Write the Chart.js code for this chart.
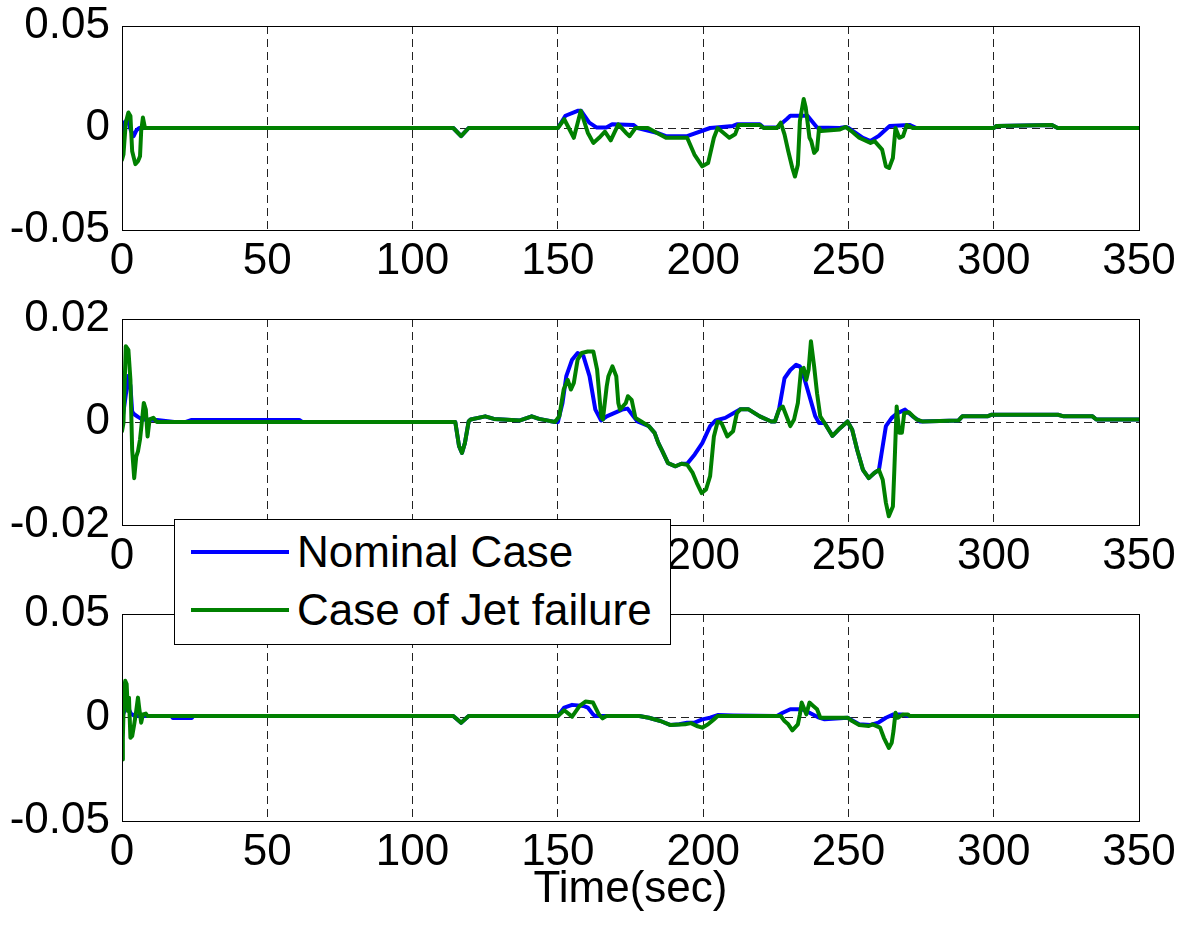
<!DOCTYPE html>
<html>
<head>
<meta charset="utf-8">
<title>Nominal case vs jet failure</title>
<script src="https://cdn.jsdelivr.net/npm/chart.js@4.4.1/dist/chart.umd.min.js"></script>
<style>
  body { margin: 0; background: #fff; }
  #wrap { position: relative; width: 1182px; height: 930px; font-family: "Liberation Sans", Arial, sans-serif; }
  #wrap canvas { position: absolute; left: 0; }
  #legend { position: absolute; left: 174px; top: 519px; width: 497px; height: 126px; box-sizing: border-box;
            border: 1px solid #000; background: #fff; z-index: 5; }
  #legend .item { position: absolute; left: 0; height: 0; width: 100%; }
  #legend .swatch { position: absolute; left: 16px; width: 98px; height: 4px; top: -2px; }
  #legend .label { position: absolute; left: 122px; top: -22px; font-size: 44px; line-height: 44px; white-space: nowrap; color: #000; }
</style>
</head>
<body>
<div id="wrap">
  <canvas id="panel1" width="1182" height="290" style="top:0px"></canvas>
  <canvas id="panel2" width="1182" height="292" style="top:293px"></canvas>
  <canvas id="panel3" width="1182" height="333" style="top:588px"></canvas>
  <div id="legend"></div>
</div>
<script>
// axis ticks
const timeTicks = [0, 50, 100, 150, 200, 250, 300, 350];
const yTicks1 = [-0.05, 0, 0.05];
const yTicks2 = [-0.02, 0, 0.02];
const yTicks3 = [-0.05, 0, 0.05];
const seriesNames = ['Nominal Case', 'Case of Jet failure'];
const seriesColors = ['#0000ff', '#008000'];

// panel 1
const t1Nominal = [0, 1, 2, 3, 4, 5, 6, 114, 116.7, 119.3, 150, 152.6, 156.8, 158, 160.8, 163.4, 166.7, 168.7, 176, 177.4, 184, 187.2, 194.5, 202.4, 210.3, 211.6, 219.5, 220.8, 225.4, 228.7, 230, 235.9, 239.2, 247, 249, 250, 255, 257.6, 260.3, 264.2, 271, 273.4, 300, 301, 320, 322, 350];
const y1Nominal = [-0.002, 0.003, 0.004, -0.001, -0.004, -0.001, 0, 0, -0.004, 0, 0, 0.006, 0.0084, 0.0084, 0.0026, 0.0002, 0.0002, 0.0018, 0.0015, 0, -0.0023, -0.004, -0.004, 0, 0.001, 0.0018, 0.0018, 0.0002, 0.0002, 0.0043, 0.006, 0.006, 0.0002, 0, 0.0005, 0, -0.0048, -0.0064, -0.004, 0.001, 0.0015, 0, 0, 0.001, 0.0015, 0, 0];
const t1Jet = [0, 0.5, 1.3, 2.2, 2.9, 3.5, 4.6, 5.5, 6.2, 6.6, 7.2, 7.9, 114, 116.7, 119.3, 150, 152.2, 155.5, 157.9, 160.3, 162.2, 164.2, 166.2, 168.2, 170.8, 173.4, 174.7, 176.7, 181, 184, 187.2, 194.5, 197, 199.7, 201.7, 203.7, 205, 209, 211, 212.2, 219.5, 220.8, 225.4, 226.7, 228, 229.3, 230.7, 231.6, 232.6, 233.3, 234.6, 235.3, 236.6, 237.2, 238.2, 239.2, 239.9, 240.6, 247.1, 249, 251, 253.7, 257.6, 259, 261.6, 262.9, 264, 265.3, 266.2, 267.5, 268.8, 270.1, 272.1, 300, 301, 320, 322, 350];
const y1Jet = [-0.0155, -0.013, 0.0026, 0.0076, 0.0059, -0.0114, -0.0177, -0.0163, -0.0139, -0.0015, 0.0051, 0, 0, -0.004, 0, 0, 0.0043, -0.0048, 0.0084, -0.0023, -0.0073, -0.0048, -0.0018, -0.0061, 0.0018, -0.0023, -0.004, 0, 0, -0.0023, -0.0048, -0.0048, -0.013, -0.0188, -0.0172, -0.0048, 0, -0.0048, -0.0031, 0.0015, 0.0015, 0, 0, 0.0026, -0.0031, -0.0114, -0.0196, -0.0238, -0.018, 0.0035, 0.0142, 0.0101, -0.0048, -0.0064, -0.0122, -0.0106, 0, -0.0015, -0.0007, 0.0005, -0.0015, -0.0048, -0.0073, -0.0064, -0.0106, -0.0188, -0.0196, -0.0147, 0, -0.0048, -0.004, 0.0015, 0, 0, 0.001, 0.0015, 0, 0];

// panel 2
const t2Nominal = [0, 1, 2.2, 2.9, 3.5, 4.2, 5.5, 7, 12, 18, 22, 24, 61, 62, 114.7, 116, 117, 118, 119.3, 120, 125, 128, 137, 141, 143.5, 149, 150, 151.6, 152.9, 154.9, 156.8, 158.8, 160.9, 162.9, 164.9, 166.8, 172.1, 174, 176, 177.4, 181.3, 183.3, 184.6, 186, 187.9, 190.5, 192.5, 194.5, 197.1, 199.7, 202.4, 204.3, 207.6, 211.6, 212.9, 215.5, 219.5, 223.4, 224.7, 226.1, 228, 230, 232, 233.3, 234.6, 236.6, 238.6, 239.9, 241.8, 244.5, 247.1, 249.7, 251.3, 253, 255, 257, 258.9, 260.5, 261.6, 262.9, 264.9, 266.8, 269.5, 272.1, 274.7, 287.9, 289.2, 297.8, 299.1, 322.1, 324.1, 334, 335.3, 350];
const y2Nominal = [0, 0.004, 0.009, 0.007, 0.002, 0.0015, 0.001, 0.0005, 0.0004, 0, 0, 0.0004, 0.0004, 0, 0, -0.0047, -0.006, -0.0041, 0.0001, 0.0005, 0.0011, 0.0006, 0.0003, 0.0011, 0.0006, 0, 0, 0.0037, 0.0089, 0.0121, 0.0134, 0.0128, 0.0089, 0.0024, 0.0003, 0.0011, 0.0024, 0.0026, 0.0011, 0.0001, -0.0008, -0.0021, -0.0041, -0.0057, -0.008, -0.0086, -0.0081, -0.0081, -0.0063, -0.0041, -0.0008, 0.0003, 0.0008, 0.0021, 0.0025, 0.0025, 0.0011, 0.0001, 0.0001, 0.0024, 0.0085, 0.0101, 0.0111, 0.0108, 0.0089, 0.005, 0.0011, -0.0002, -0.0002, -0.0027, -0.0012, 0.0001, -0.0015, -0.0054, -0.0093, -0.0109, -0.0099, -0.0093, -0.0054, -0.0008, 0.0008, 0.0017, 0.0024, 0.0011, 0.0001, 0.0003, 0.0011, 0.0011, 0.0014, 0.0014, 0.0011, 0.0011, 0.0005, 0.0005];
const t2Jet = [0, 0.5, 1.3, 2.2, 2.9, 3.5, 4.2, 4.9, 5.5, 6.2, 6.8, 7.5, 8.2, 8.8, 9.5, 10.8, 12, 114.7, 116, 117, 118, 119.3, 120, 125, 128, 137, 141, 143.5, 149, 150.5, 152, 153.4, 154.5, 155.5, 156.8, 158.2, 160.3, 162.2, 163.5, 164.9, 165.5, 166.8, 167.4, 168.8, 170.1, 170.8, 171.4, 173.4, 174.1, 175.4, 176.7, 178.7, 181.3, 183.3, 184.6, 186, 187.9, 190.5, 192.5, 194.5, 196.4, 197.8, 199.5, 201, 202.4, 203.7, 205, 206.3, 208.3, 210.3, 211.6, 212.9, 215.5, 219.5, 223.4, 224.7, 226.1, 227.4, 228.7, 230, 231.3, 232.6, 233.7, 234.6, 235.5, 236.3, 237.1, 238.2, 239.2, 240.3, 241.8, 244.5, 247.1, 249.7, 251.3, 253, 255, 257, 258.9, 260.5, 261.8, 262.9, 263.9, 265.3, 265.8, 266.6, 267.5, 268.4, 269.2, 270.8, 273.4, 275.4, 287.9, 289.2, 297.8, 299.1, 322.1, 324.1, 334, 335.3, 350];
const y2Jet = [-0.0018, -0.0002, 0.0147, 0.014, 0.0082, -0.0054, -0.0109, -0.0067, -0.0057, -0.0034, -0.0002, 0.0037, 0.0024, -0.0028, 0.0005, 0.0008, 0, 0, -0.0047, -0.006, -0.0041, 0.0001, 0.0005, 0.0011, 0.0006, 0.0003, 0.0011, 0.0006, 0, 0.0011, 0.0063, 0.0082, 0.0063, 0.0076, 0.0121, 0.0134, 0.0137, 0.0137, 0.0102, 0.0011, 0.0005, 0.0069, 0.0089, 0.0108, 0.0089, 0.0037, 0.0024, 0.0037, 0.005, 0.0043, 0.0008, 0.0001, -0.0008, -0.0021, -0.0041, -0.0057, -0.008, -0.0086, -0.0081, -0.0083, -0.0099, -0.0118, -0.0138, -0.0131, -0.0105, -0.0028, 0.0001, -0.0002, -0.0028, -0.0018, 0.0017, 0.0025, 0.0025, 0.0011, 0.0001, 0.0001, 0.0024, 0.003, 0.0011, -0.0008, 0.0005, 0.0037, 0.0102, 0.0105, 0.0082, 0.0102, 0.0157, 0.0108, 0.0056, 0.0011, -0.0002, -0.0027, -0.0012, 0.0001, -0.0015, -0.0054, -0.0093, -0.0109, -0.0099, -0.0093, -0.0112, -0.0157, -0.0183, -0.0164, -0.0093, 0.003, -0.0021, -0.0021, 0.0017, 0.0019, 0.0005, 0.0001, 0.0003, 0.0011, 0.0011, 0.0014, 0.0014, 0.0011, 0.0011, 0.0005, 0.0005];

// panel 3
const t3Nominal = [0, 1, 2, 3, 4, 6, 17, 17.5, 24, 24.5, 114, 116.7, 119.3, 150, 152.2, 154.9, 158.8, 160.3, 162.1, 162.9, 178, 181.3, 185.3, 188.6, 191.8, 194.5, 197.1, 199.7, 202.4, 205, 210.3, 225.4, 227.4, 230, 233.9, 236.6, 239.9, 241.8, 249.7, 253.7, 257.6, 260.3, 262.9, 265.5, 268.2, 270.5, 350];
const y3Nominal = [0, 0.004, 0.005, 0.002, 0.001, 0.0007, 0.0007, -0.0002, -0.0002, 0.0007, 0.0007, -0.0025, 0.0007, 0.0007, 0.0048, 0.0061, 0.0056, 0.0048, 0.0015, 0.0007, 0.0007, -0.0001, -0.0017, -0.0036, -0.0033, -0.0025, -0.0025, -0.0009, -0.0001, 0.0012, 0.001, 0.0007, 0.0023, 0.004, 0.004, 0.0023, -0.0001, -0.0009, -0.0001, -0.0033, -0.0036, -0.0025, -0.0001, 0.0015, 0.0015, 0.0007, 0.0007];
const t3Jet = [0, 0.3, 0.7, 1.1, 1.6, 2, 2.4, 2.9, 3.5, 4.2, 4.9, 5.5, 5.9, 6.6, 7.2, 8.2, 8.8, 114, 116.7, 119.3, 150, 152.2, 154.9, 157.5, 159.5, 162.1, 164.1, 165.4, 166.7, 178, 181.3, 185.3, 188.6, 193.8, 195.8, 197.8, 199.7, 201.7, 203.7, 205, 226.7, 228, 229.3, 230.7, 232.6, 233.3, 233.9, 234.6, 235.5, 236.6, 237.9, 239.2, 239.9, 240.3, 249.7, 251.3, 253.7, 257, 258.3, 260.9, 262.2, 263.9, 264.9, 265.5, 266.2, 267, 268.8, 270.5, 271, 350];
const y3Jet = [-0.0203, -0.0098, 0.0129, 0.0177, 0.0161, 0.0032, 0.0096, -0.0098, -0.009, -0.0033, 0.0032, 0.0096, 0.0048, -0.0025, 0.0015, 0.0019, 0.0007, 0.0007, -0.0025, 0.0007, 0.0007, 0.0035, 0.0004, 0.0056, 0.0077, 0.0072, 0.0015, -0.0004, 0.0007, 0.0007, -0.0001, -0.0017, -0.0036, -0.0033, -0.0027, -0.0041, -0.0049, -0.0033, -0.0009, 0.0007, 0.0007, -0.0017, -0.0033, -0.0062, -0.0033, 0.0015, 0.0072, 0.0048, 0.0015, 0.0072, 0.0056, 0.004, 0.0015, -0.0001, -0.0001, -0.0017, -0.0036, -0.0041, -0.0033, -0.0049, -0.0098, -0.0147, -0.0122, -0.0066, 0.0023, -0.0001, 0.0015, 0.0015, 0.0007, 0.0007];

const fontFamily = '"Liberation Sans", Arial, sans-serif';
const tickFont = { family: fontFamily, size: 44, lineHeight: 1 };

// pair up time and value arrays into {x, y} points
function toPoints(times, values) {
    return times.map((t, i) => ({ x: t, y: values[i] }));
}

// fixed axis box sizes, and no extra inset for overhanging end labels
function fixAxis(size) {
    return axis => {
        if (axis.isHorizontal()) axis.height = size; else axis.width = size;
        axis.paddingTop = axis.paddingBottom = axis.paddingLeft = axis.paddingRight = 0;
    };
}

// MATLAB-style closed box around the plot area
const axesBox = {
    id: 'axesBox',
    afterDraw(chart) {
        const { ctx, chartArea: a } = chart;
        ctx.save();
        ctx.strokeStyle = '#000';
        ctx.lineWidth = 1;
        ctx.strokeRect(Math.round(a.left) + 0.5, Math.round(a.top) + 0.5,
            Math.round(a.right - a.left), Math.round(a.bottom - a.top));
        ctx.restore();
    }
};

function makePanel(canvasId, yTicks, nomT, nomY, jetT, jetY, showTitle) {
    const ctx = document.getElementById(canvasId).getContext('2d');
    return new Chart(ctx, {
        type: 'line',
        data: {
            datasets: [
                { label: seriesNames[0], data: toPoints(nomT, nomY), borderColor: seriesColors[0], order: 1 },
                { label: seriesNames[1], data: toPoints(jetT, jetY), borderColor: seriesColors[1], order: 0 }
            ]
        },
        options: {
            animation: false,
            responsive: false,
            devicePixelRatio: 1,
            layout: { padding: { top: 26, right: 43, left: 0, bottom: 0 } },
            elements: {
                point: { radius: 0 },
                line: { borderWidth: 4, tension: 0, borderJoinStyle: 'round', borderCapStyle: 'round' }
            },
            plugins: { legend: { display: false }, tooltip: { enabled: false } },
            scales: {
                x: {
                    type: 'linear',
                    min: timeTicks[0],
                    max: timeTicks[timeTicks.length - 1],
                    afterBuildTicks: axis => { axis.ticks = timeTicks.map(v => ({ value: v })); },
                    afterFit: fixAxis(showTitle ? 100 : 60),
                    grid: { color: '#222', lineWidth: 1, drawTicks: false },
                    border: { display: false, dash: [8, 5] },
                    ticks: { font: tickFont, color: '#000', padding: 10, maxRotation: 0, autoSkip: false,
                             callback: v => String(v) },
                    title: { display: showTitle, text: 'Time(sec)', font: tickFont, color: '#000',
                             padding: { top: 0, bottom: 9 } }
                },
                y: {
                    type: 'linear',
                    min: yTicks[0],
                    max: yTicks[yTicks.length - 1],
                    afterBuildTicks: axis => { axis.ticks = yTicks.map(v => ({ value: v })); },
                    afterFit: fixAxis(122),
                    grid: { color: '#222', lineWidth: 1, drawTicks: false },
                    border: { display: false, dash: [8, 5] },
                    ticks: { font: tickFont, color: '#000', padding: 12, callback: v => String(v) }
                }
            }
        },
        plugins: [axesBox]
    });
}

// legend box built from the dataset labels and colours
function buildLegend(chart) {
    const box = document.getElementById('legend');
    chart.data.datasets.forEach((ds, i) => {
        const row = document.createElement('div');
        row.className = 'item';
        row.style.top = (32 + i * 58) + 'px';
        row.innerHTML = `<span class="swatch" style="background:${ds.borderColor}"></span>` +
                        `<span class="label">${ds.label}</span>`;
        box.appendChild(row);
    });
}

makePanel('panel1', yTicks1, t1Nominal, y1Nominal, t1Jet, y1Jet, false);
makePanel('panel2', yTicks2, t2Nominal, y2Nominal, t2Jet, y2Jet, false);
const bottomPanel = makePanel('panel3', yTicks3, t3Nominal, y3Nominal, t3Jet, y3Jet, true);
buildLegend(bottomPanel);
</script>
</body>
</html>
